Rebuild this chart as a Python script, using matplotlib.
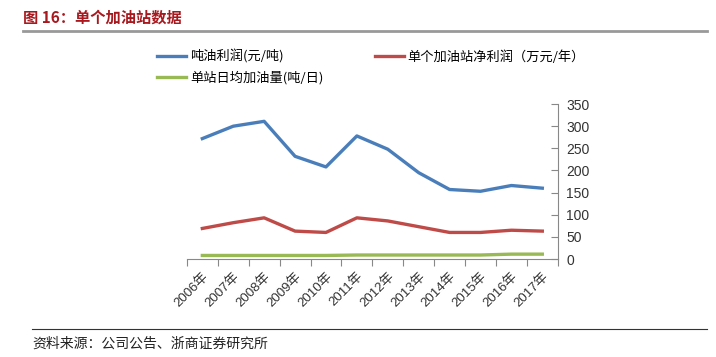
import matplotlib
matplotlib.use("Agg")
import matplotlib.pyplot as plt
from matplotlib.lines import Line2D

plt.rcParams['font.family'] = ['Noto Sans CJK SC', 'DejaVu Sans']

years = ["2006年", "2007年", "2008年", "2009年", "2010年", "2011年",
         "2012年", "2013年", "2014年", "2015年", "2016年", "2017年"]
profit_per_ton = [272, 300, 311, 232, 208, 278, 248, 195, 157, 153, 166, 160]
station_net_profit = [69, 82, 93, 63, 60, 93, 86, 73, 60, 60, 65, 63]
daily_volume = [8, 8, 8, 8, 8, 9, 9, 9, 9, 9, 11, 11]

series_names = ["吨油利润(元/吨)", "单个加油站净利润（万元/年）", "单站日均加油量(吨/日)"]
colors = ["#4A7EBB", "#BE4B48", "#98B954"]

fig = plt.figure(figsize=(7.16, 3.57), dpi=100)
ax = fig.add_axes([0.261, 0.2745, 0.518, 0.434])

x = list(range(len(years)))
l1, = ax.plot(x, profit_per_ton, color=colors[0], lw=2.4, label=series_names[0])
l2, = ax.plot(x, station_net_profit, color=colors[1], lw=2.4, label=series_names[1])
l3, = ax.plot(x, daily_volume, color=colors[2], lw=2.4, label=series_names[2])

ax.set_xlim(-0.5, len(years) - 0.5)
ax.set_ylim(0, 350)
ax.yaxis.tick_right()
ax.set_yticks(range(0, 351, 50))
ax.set_xticks([i - 0.5 for i in range(len(years) + 1)], minor=False)
ax.set_xticklabels([])
ax.set_xticks(x, minor=True)
ax.set_xticklabels(years, minor=True, rotation=45, ha='right', va='top',
                   rotation_mode='anchor', fontsize=9.5, color='#333333')
for lab in ax.get_xticklabels(minor=True):
    lab.set_family(['Liberation Sans', 'Noto Sans CJK SC'])
ax.tick_params(axis='x', which='major', direction='out', length=5, color='#888888')
ax.tick_params(axis='x', which='minor', length=0, pad=8)
ax.tick_params(axis='y', direction='in', length=5, color='#888888',
               labelsize=10, labelcolor='#333333', pad=6)
for s in ['top', 'left']:
    ax.spines[s].set_visible(False)
ax.spines['right'].set_color('#888888')
ax.spines['bottom'].set_color('#888888')
for lab in ax.get_yticklabels():
    lab.set_family(['Liberation Sans', 'DejaVu Sans'])

leg1 = fig.legend(handles=[l1, l3], loc='upper left', bbox_to_anchor=(0.212, 0.875),
                  frameon=False, fontsize=9.5, handlelength=2.2, handletextpad=0.3,
                  labelspacing=0.5, borderaxespad=0)
leg2 = fig.legend(handles=[l2], loc='upper left', bbox_to_anchor=(0.516, 0.875),
                  frameon=False, fontsize=9.5, handlelength=2.2, handletextpad=0.3,
                  borderaxespad=0)

fig.text(0.032, 0.952, "图 16：单个加油站数据", color='#A8191F', fontsize=11,
         fontweight='bold', va='center', ha='left')
fig.add_artist(Line2D([0.032, 0.988], [0.913, 0.913], color='#999999', lw=2))
fig.add_artist(Line2D([0.045, 0.988], [0.078, 0.078], color='#333333', lw=0.8))
fig.text(0.045, 0.038, "资料来源：公司公告、浙商证券研究所", color='#222222', fontsize=10,
         va='center', ha='left')

fig.savefig("out.png", dpi=100)
